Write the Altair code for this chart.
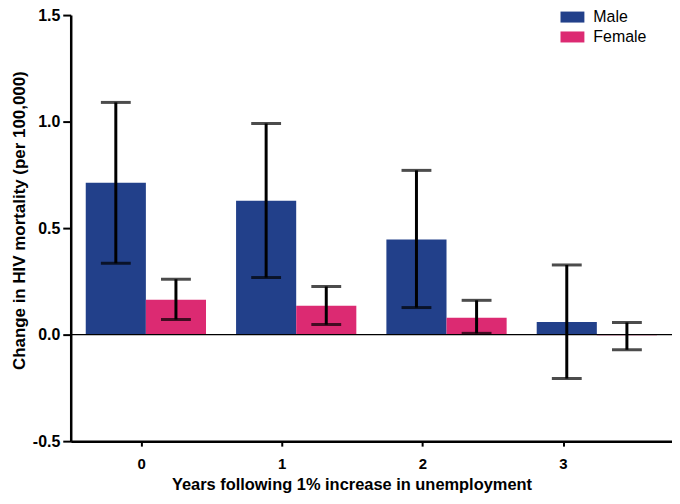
import altair as alt
import pandas as pd

years = ["0", "1", "2", "3"]
sexes = ["Male", "Female"]
male_vals = [0.713, 0.628, 0.447, 0.059]
male_lo = [0.335, 0.268, 0.127, -0.206]
male_hi = [1.090, 0.991, 0.771, 0.327]
female_vals = [0.164, 0.135, 0.079, -0.003]
female_lo = [0.071, 0.047, 0.006, -0.071]
female_hi = [0.260, 0.226, 0.161, 0.057]
tick_years = [0, 1, 2, 3]
colors = ["#22408A", "#DC2A72"]

rows = []
for i, y in enumerate(years):
    rows.append({"year": y, "sex": "Male", "value": male_vals[i], "lo": male_lo[i], "hi": male_hi[i]})
    rows.append({"year": y, "sex": "Female", "value": female_vals[i], "lo": female_lo[i], "hi": female_hi[i]})
df = pd.DataFrame(rows)
ticks_df = pd.DataFrame({"t": tick_years, "z": [0] * len(tick_years)})

FONT = "Liberation Sans"

yscale = alt.Scale(domain=[-0.5, 1.5], nice=False, zero=False)
yaxis = alt.Axis(
    values=[-0.5, 0, 0.5, 1.0, 1.5], grid=False,
    labelExpr="datum.value < 0 ? '-' + format(-datum.value, '.1f') : format(datum.value, '.1f')",
    labelFontWeight="bold", labelFontSize=16, labelColor="black", labelPadding=3,
    title="Change in HIV mortality (per 100,000)", titleFontSize=17, titleFontWeight="bold",
    titleColor="black", titleX=-42, titleY=206,
    domainColor="black", domainWidth=2.5, tickColor="black", tickWidth=2, tickSize=8,
)

xband = alt.X("year:N", sort=years, scale=alt.Scale(paddingInner=0.2, paddingOuter=0.1), axis=None)
xoff = alt.XOffset("sex:N", sort=sexes, scale=alt.Scale(paddingInner=0, paddingOuter=0))

base = alt.Chart(df)

bars = base.mark_bar().encode(
    x=xband,
    xOffset=xoff,
    y=alt.Y("value:Q", scale=yscale, axis=yaxis),
    color=alt.Color(
        "sex:N", sort=sexes, scale=alt.Scale(domain=sexes, range=colors),
        legend=alt.Legend(
            title=None, orient="none", legendX=492, legendY=-10,
            symbolType="M-1,-0.46H1V0.46H-1Z", symbolSize=576, symbolStrokeWidth=0,
            labelFontSize=16, labelFont=FONT, labelColor="black", labelOffset=9, rowPadding=0,
        ),
    ),
)

zero = alt.Chart(pd.DataFrame({"z": [0]})).mark_rule(color="black", strokeWidth=1.5).encode(
    y=alt.Y("z:Q", scale=yscale)
)

err = base.mark_rule(color="black", strokeWidth=3).encode(
    x=xband, xOffset=xoff,
    y=alt.Y("lo:Q", scale=yscale), y2="hi:Q",
)
cap_hi = base.mark_tick(color="black", thickness=3, size=30, orient="horizontal").encode(
    x=xband, xOffset=xoff, y=alt.Y("hi:Q", scale=yscale),
)
cap_lo = base.mark_tick(color="black", thickness=3, size=30, orient="horizontal").encode(
    x=xband, xOffset=xoff, y=alt.Y("lo:Q", scale=yscale),
)

axis_layer = alt.Chart(ticks_df).mark_point(opacity=0).encode(
    x=alt.X("t:Q", scale=alt.Scale(domain=[-0.5, 3.775], nice=False, zero=False),
            axis=alt.Axis(
                orient="bottom", values=tick_years, format="d", grid=False,
                labelFontWeight="bold", labelFontSize=15, labelColor="black", labelPadding=10,
                title="Years following 1% increase in unemployment", titleFontSize=16.5,
                titleFontWeight="bold", titleColor="black", titleX=282, titlePadding=6,
                domainColor="black", domainWidth=2.5, tickColor="black", tickWidth=2, tickSize=5,
            )),
    y=alt.Y("z:Q", scale=yscale),
)

chart = alt.layer(bars, zero, err, cap_hi, cap_lo, axis_layer).resolve_scale(
    x="independent"
).properties(
    width=604, height=428,
    autosize=alt.AutoSizeParams(type="none"),
    padding={"left": 63, "top": 6, "right": 0, "bottom": 54},
).configure(font=FONT).configure_view(stroke=None).configure_axis(labelFont=FONT, titleFont=FONT)

chart.save("out.html", embed_options={"renderer": "svg", "actions": False})
